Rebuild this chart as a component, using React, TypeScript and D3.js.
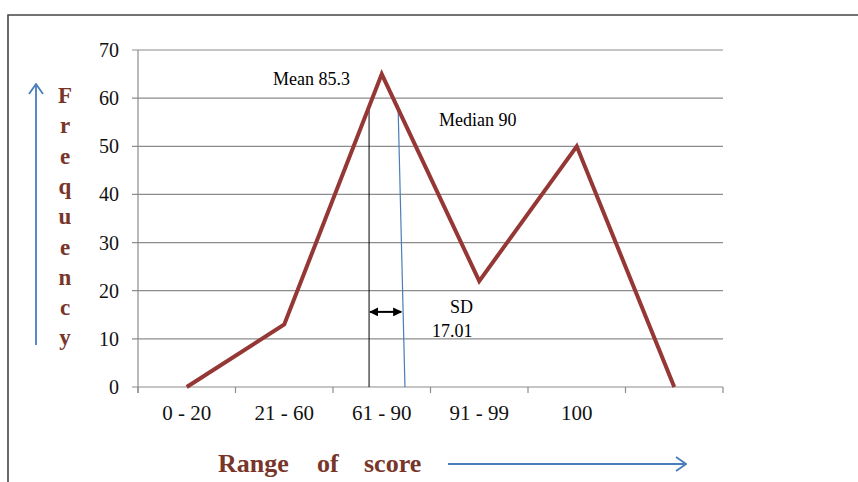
import React from "react";
import * as d3 from "d3";

// ---- data ----
const categories: string[] = ["0 - 20", "21 - 60", "61 - 90", "91 - 99", "100", ""];
const frequencies: number[] = [0, 13, 65, 22, 50, 0];
const yTicks: number[] = [0, 10, 20, 30, 40, 50, 60, 70];
const axisLetters: string[] = ["F", "r", "e", "q", "u", "e", "n", "c", "y"];
const xTitleWords: string[] = ["Range", "of", "score"];

// statistic markers, positions in category-index units, heights in frequency units
const meanLabel = "Mean 85.3";
const meanPos = 2.37;
const meanTop = 57.5;
const medianLabel = "Median 90";
const medianTopPos = 2.667;
const medianBottomPos = 2.738;
const medianTop = 58.6;
const sdLabel = "SD";
const sdValue = "17.01";
const sdFrom = 2.37;
const sdTo = 2.71;
const sdLevel = 15.6;

const W = 858;
const H = 482;
const left = 138;
const right = 723;
const top = 50;
const bottom = 387;

const serif = "'Liberation Serif', 'Times New Roman', serif";
const lineColor = "#953735";
const brown = "#78362a";
const blue = "#4a7ebb";
const gridColor = "#8c8c8c";

export default function App() {
  const x = d3
    .scaleBand<number>()
    .domain(categories.map((_, i) => i))
    .range([left, right])
    .paddingInner(0)
    .paddingOuter(0);
  const xi = d3.scaleLinear().domain([0, categories.length]).range([left, right]);
  const y = d3.scaleLinear().domain([0, 70]).range([bottom, top]);

  const line = d3
    .line<number>()
    .x((_, i) => (x(i) as number) + x.bandwidth() / 2)
    .y((d) => y(d));

  const boundaries = d3.range(categories.length + 1);

  return (
    <svg
      width={W}
      height={H}
      style={{ position: "absolute", left: 0, top: 0, background: "#fff" }}
      fontFamily={serif}
    >
      <defs>
        <marker id="chev" viewBox="0 0 12 16" refX="11" refY="8" markerWidth="12" markerHeight="16" markerUnits="userSpaceOnUse" orient="auto">
          <path d="M1,1 L11,8 L1,15" fill="none" stroke={blue} strokeWidth={1.8} />
        </marker>
        <marker id="tri" viewBox="0 0 10 10" refX="9" refY="5" markerWidth="9" markerHeight="9" markerUnits="userSpaceOnUse" orient="auto-start-reverse">
          <path d="M0,0 L10,5 L0,10 Z" fill="#000" />
        </marker>
      </defs>

      {/* frame */}
      <path d={`M8,${H} L8,15 L${W},15`} fill="none" stroke="#444" strokeWidth={1.6} />

      {/* gridlines + y ticks */}
      {yTicks.map((t) => (
        <g key={t}>
          <line x1={left - 6} x2={right} y1={y(t)} y2={y(t)} stroke={gridColor} strokeWidth={1.2} />
          <text x={119} y={y(t)} dy="0.35em" textAnchor="end" fontSize={20} fill="#111">
            {t}
          </text>
        </g>
      ))}
      {/* y axis */}
      <line x1={left} x2={left} y1={top} y2={bottom + 6} stroke={gridColor} strokeWidth={1.2} />
      {/* x ticks */}
      {boundaries.map((b) => (
        <line key={b} x1={xi(b)} x2={xi(b)} y1={bottom} y2={bottom + 6} stroke={gridColor} strokeWidth={1.2} />
      ))}
      {/* x labels */}
      {categories.map((c, i) => (
        <text key={i} x={(x(i) as number) + x.bandwidth() / 2} y={420} textAnchor="middle" fontSize={21} fill="#111">
          {c}
        </text>
      ))}

      {/* mean line */}
      <line x1={xi(meanPos)} x2={xi(meanPos)} y1={y(meanTop)} y2={y(0)} stroke="#000" strokeWidth={1} />
      {/* median line */}
      <line x1={xi(medianTopPos)} x2={xi(medianBottomPos)} y1={y(medianTop)} y2={y(0)} stroke={blue} strokeWidth={1.2} />

      {/* frequency polygon */}
      <path d={line(frequencies) ?? ""} fill="none" stroke={lineColor} strokeWidth={4} strokeLinejoin="miter" />

      {/* SD arrow */}
      <line
        x1={xi(sdFrom) + 1}
        x2={xi(sdTo) - 1}
        y1={y(sdLevel)}
        y2={y(sdLevel)}
        stroke="#000"
        strokeWidth={2}
        markerStart="url(#tri)"
        markerEnd="url(#tri)"
      />

      {/* annotations */}
      <text x={273} y={85} fontSize={18} fill="#000">{meanLabel}</text>
      <text x={439} y={126} fontSize={18} fill="#000">{medianLabel}</text>
      <text x={450} y={313} fontSize={18} fill="#000">{sdLabel}</text>
      <text x={432} y={337} fontSize={18} fill="#000">{sdValue}</text>

      {/* y title */}
      {axisLetters.map((l, i) => (
        <text key={i} x={65} y={103 + i * 30.3} textAnchor="middle" fontSize={23} fontWeight="bold" fill={brown}>
          {l}
        </text>
      ))}
      <line x1={36} x2={36} y1={345} y2={84} stroke={blue} strokeWidth={1.8} markerEnd="url(#chev)" />

      {/* x title */}
      <text y={472} fontSize={26} fontWeight="bold" fill={brown}>
        <tspan x={218}>{xTitleWords[0]}</tspan>
        <tspan x={317}>{xTitleWords[1]}</tspan>
        <tspan x={364}>{xTitleWords[2]}</tspan>
      </text>
      <line x1={448} x2={686} y1={464} y2={464} stroke={blue} strokeWidth={1.8} markerEnd="url(#chev)" />
    </svg>
  );
}
